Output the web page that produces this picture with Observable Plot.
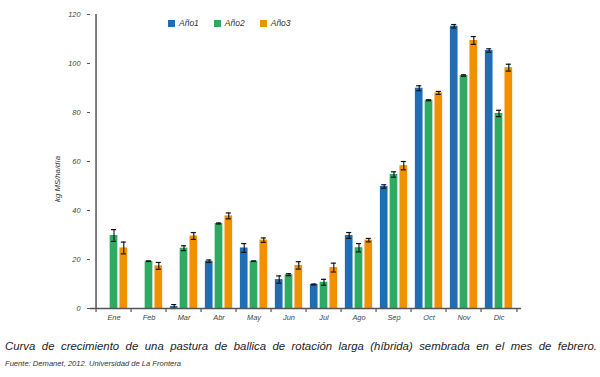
<!DOCTYPE html>
<html>
<head>
<meta charset="utf-8">
<script src="https://cdn.jsdelivr.net/npm/d3@7"></script>
<script src="https://cdn.jsdelivr.net/npm/@observablehq/plot@0.6"></script>
<style>
  body { margin: 0; background: #fff; font-family: "Liberation Sans", Arial, sans-serif; }
  #wrap { position: relative; width: 600px; height: 377px; }
  #legend { position: absolute; top: 18px; left: 168px; font-style: italic; font-size: 8.5px; color: #333; display: flex; gap: 0; }
  #legend span.item { display: inline-flex; align-items: center; margin-right: 15px; }
  #legend span.sw { width: 7px; height: 7px; display: inline-block; margin-right: 4px; }
  #ylabel { position: absolute; left: 57px; top: 179px; transform: translate(-50%, -50%) rotate(-90deg); font-style: italic; font-size: 7.8px; color: #333; white-space: nowrap; }
  #caption { position: absolute; top: 340px; left: 5px; width: 592px; font-style: italic; font-size: 11.4px; color: #222; text-align: justify; text-align-last: justify; white-space: nowrap; }
  #source { position: absolute; top: 359px; left: 5px; font-style: italic; font-size: 7.6px; color: #333; }
</style>
</head>
<body>
<div id="wrap">
  <div id="chart"></div>
  <div id="legend"></div>
  <div id="ylabel">kg MS/ha/día</div>
  <div id="caption">Curva de crecimiento de una pastura de ballica de rotación larga (híbrida) sembrada en el mes de febrero.</div>
  <div id="source">Fuente: Demanet, 2012. Universidad de La Frontera</div>
</div>
<script>
const meses = ["Ene","Feb","Mar","Abr","May","Jun","Jul","Ago","Sep","Oct","Nov","Dic"];
const series = ["Año1","Año2","Año3"];
const colores = ["#1f6db5","#2eaa63","#f29100"];
const ano1 = [null, null, 0.8, 19.3, 24.7, 11.8, 9.8, 29.8, 49.8, 89.9, 115.2, 105.3];
const ano2 = [29.8, 19.3, 24.6, 34.7, 19.3, 13.8, 10.7, 24.8, 54.7, 85.0, 95.1, 79.6];
const ano3 = [24.7, 17.4, 29.6, 37.8, 27.9, 17.6, 16.7, 27.9, 58.3, 88.0, 109.4, 98.3];
const err1 = [null, null, 0.8, 0.5, 1.8, 1.5, 0.2, 1.2, 0.7, 1.0, 0.7, 0.7];
const err2 = [2.4, 0.1, 1.0, 0.2, 0.1, 0.4, 1.2, 1.7, 1.1, 0.2, 0.3, 1.3];
const err3 = [2.4, 1.4, 1.4, 1.2, 0.9, 1.5, 1.8, 0.7, 1.7, 0.6, 1.6, 1.4];
const yTicks = [0, 20, 40, 60, 80, 100, 120];

const valores = [ano1, ano2, ano3];
const errores = [err1, err2, err3];

const W = 600, H = 330, mL = 90, mR = 79, mT = 14, mB = 22;
const band = (W - mL - mR) / meses.length;
const barW = 8.6, step = 9.8, capW = 6;

const marks = [];
series.forEach((s, i) => {
  const rows = meses.map((m, j) => ({mes: m, serie: s, valor: valores[i][j], err: errores[i][j]}))
                    .filter(d => d.valor != null);
  const dx = (i - 1) * step;
  const ins = (band - barW) / 2;
  const capIns = (band - capW) / 2;
  marks.push(Plot.barY(rows, {x: "mes", y: "valor", fill: colores[i], dx, insetLeft: ins, insetRight: ins}));
  marks.push(Plot.ruleX(rows, {x: "mes", y1: d => d.valor - d.err, y2: d => d.valor + d.err, dx, stroke: "#111", strokeWidth: 1.1}));
  marks.push(Plot.tickY(rows, {x: "mes", y: d => d.valor - d.err, dx, insetLeft: capIns, insetRight: capIns, stroke: "#111", strokeWidth: 1.2}));
  marks.push(Plot.tickY(rows, {x: "mes", y: d => d.valor + d.err, dx, insetLeft: capIns, insetRight: capIns, stroke: "#111", strokeWidth: 1.2}));
});

const chart = Plot.plot({
  width: W, height: H,
  marginLeft: mL, marginRight: mR, marginTop: mT, marginBottom: mB,
  style: {fontFamily: "'Liberation Sans', Arial, sans-serif", fontStyle: "italic", fontSize: "7.4px", color: "#444"},
  x: {type: "band", domain: meses, padding: 0, label: null},
  y: {domain: [0, 120], label: null},
  marks: [
    ...marks,
    Plot.axisY({ticks: yTicks, tickSize: 3, tickPadding: 7, label: null, stroke: "#555"}),
    Plot.axisX({tickSize: 0, tickPadding: 6, label: null}),
    Plot.ruleX(meses, {x: d => d, dx: -band / 2, y1: 0, y2: -1.6, stroke: "#555", strokeWidth: 1.2}),
    Plot.ruleX(["Dic"], {x: d => d, dx: band / 2, y1: 0, y2: -1.6, stroke: "#555", strokeWidth: 1.2}),
    Plot.ruleX(["Ene"], {x: d => d, dx: -band / 2, y1: 0, y2: 120, stroke: "#555", strokeWidth: 1.5}),
    Plot.ruleY([0], {stroke: "#555", strokeWidth: 1.5})
  ]
});
document.getElementById("chart").appendChild(chart);

const leg = document.getElementById("legend");
series.forEach((s, i) => {
  const it = document.createElement("span");
  it.className = "item";
  const sw = document.createElement("span");
  sw.className = "sw";
  sw.style.background = colores[i];
  it.appendChild(sw);
  it.appendChild(document.createTextNode(s));
  leg.appendChild(it);
});
</script>
</body>
</html>
